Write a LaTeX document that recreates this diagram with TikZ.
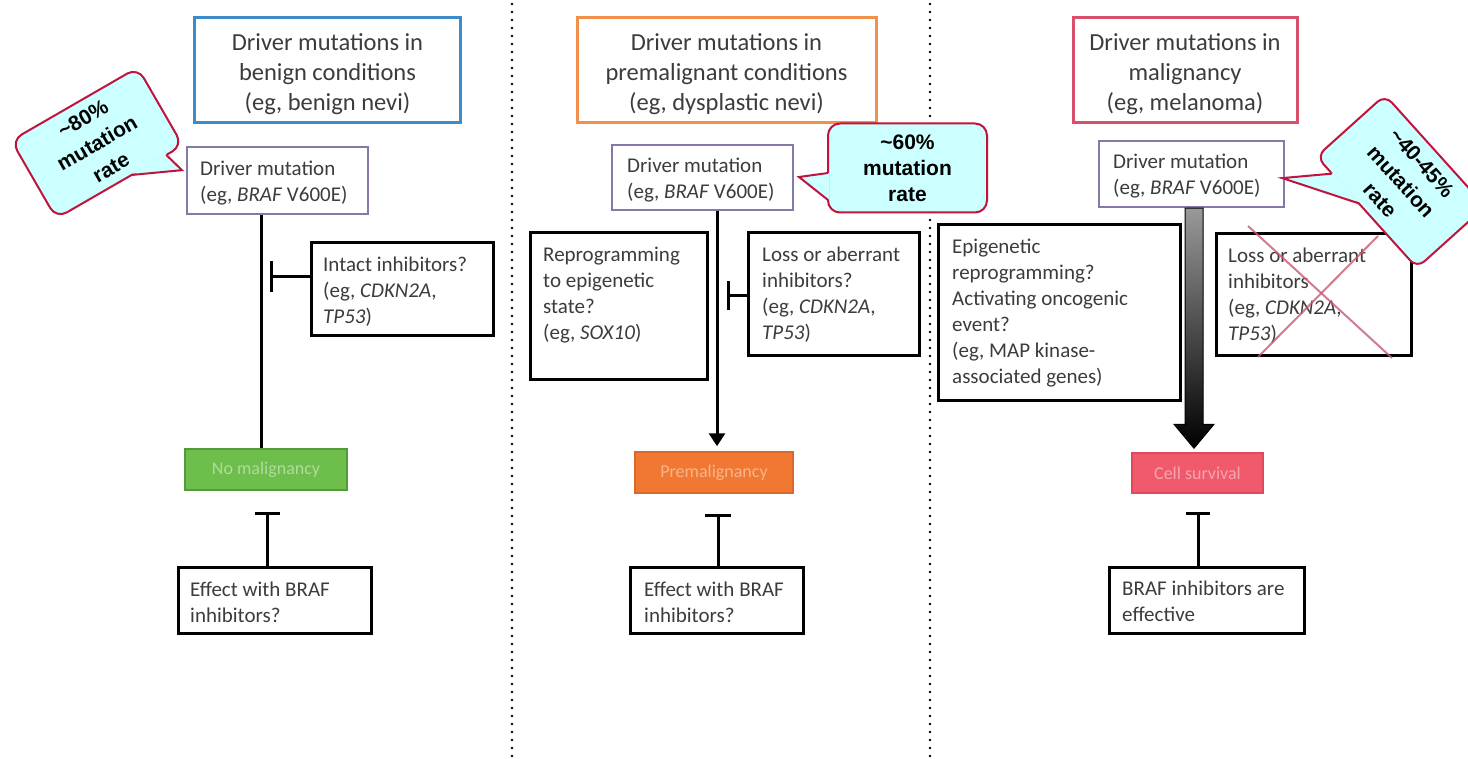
\documentclass[tikz,border=0pt]{standalone}
\usepackage{fontspec}
\setmainfont{Carlito}
\newfontfamily\callfont{Liberation Sans}
\usetikzlibrary{arrows.meta,calc}
\definecolor{txt}{HTML}{3C3C3C}
\definecolor{bluebd}{HTML}{3D8BC9}
\definecolor{orangebd}{HTML}{F0904A}
\definecolor{redbd}{HTML}{D8506C}
\definecolor{drvbd}{HTML}{8878A8}
\definecolor{callfill}{HTML}{CCFFFF}
\definecolor{callbd}{HTML}{C0143C}
\definecolor{greenfill}{HTML}{6EBE4B}
\definecolor{greenbd}{HTML}{559A3A}
\definecolor{orfill}{HTML}{F07832}
\definecolor{orbd}{HTML}{D9692A}
\definecolor{rdfill}{HTML}{F05A6C}
\definecolor{rdbd}{HTML}{E0485C}
\definecolor{xred}{HTML}{C85A72}
\begin{document}
\begin{tikzpicture}[x=1pt,y=-1pt,
 titlebox/.style={draw, line width=3pt, inner sep=0pt},
 titletxt/.style={align=center, inner sep=0pt, text=txt, font=\fontsize{24.5}{30}\selectfont},
 drvbox/.style={draw=drvbd, line width=2.5pt, inner sep=0pt},
 blkbox/.style={draw=black, line width=3pt, inner sep=0pt},
 btxt/.style={anchor=north west, inner sep=0pt, align=left, text=txt, font=\fontsize{21}{26}\selectfont, execute at begin node=\strut},
 statebox/.style={line width=1.5pt, inner sep=0pt, text=white, text opacity=0.45, font=\fontsize{18}{20}\selectfont},
 conn/.style={line width=3pt, draw=black},
 inhib/.style={conn, -{Bar[width=#1]}},
 callbody/.style={fill=callfill, draw=callbd, line width=2pt, rounded corners=12pt, inner sep=0pt, align=center, font=\callfont\bfseries\fontsize{21}{26}\selectfont},
 callrot/.style={callbody, transform shape, font=\callfont\bfseries\fontsize{21}{28}\selectfont},
 ptrfill/.style={fill=callfill, draw=none},
 ptredge/.style={draw=callbd, line width=2pt, line join=miter},
 dotline/.style={line width=2.6pt, dash pattern=on 0pt off 8pt, line cap=round}
]
\fill[white] (0,0) rectangle (1468,759);
\useasboundingbox (0,0) rectangle (1468,759);

% dotted separators
\draw[dotline] (512,4) -- (512,759);
\draw[dotline] (930,4) -- (930,759);

% title boxes
\node[titlebox, draw=bluebd, minimum width=266, minimum height=105] (t1) at (327.5,70.5) {};
\node[titletxt] at ($(t1.center)+(0,4)$) {Driver mutations in\\benign conditions\\(eg, benign nevi)};
\node[titlebox, draw=orangebd, minimum width=299, minimum height=105] (t2) at (726.5,70.5) {};
\node[titletxt] at ($(t2.center)+(0,4)$) {Driver mutations in\\premalignant conditions\\(eg, dysplastic nevi)};
\node[titlebox, draw=redbd, minimum width=224, minimum height=105] (t3) at (1185,70.5) {};
\node[titletxt] at ($(t3.center)+(0,4)$) {Driver mutations in\\malignancy\\(eg, melanoma)};

% driver boxes
\node[drvbox, minimum width=181, minimum height=67] (d1) at (277.5,180.5) {};
\node[btxt] at (200,161) {Driver mutation\\(eg, \textit{BRAF} V600E)};
\node[drvbox, minimum width=181, minimum height=65] (d2) at (702.5,177.5) {};
\node[btxt] at (627,158) {Driver mutation\\(eg, \textit{BRAF} V600E)};
\node[drvbox, minimum width=185, minimum height=66] (d3) at (1191.5,174) {};
\node[btxt] at (1113,154) {Driver mutation\\(eg, \textit{BRAF} V600E)};

% side boxes
\node[blkbox, minimum width=182, minimum height=93] (i1) at (402,289.5) {};
\node[btxt] at (323,257) {Intact inhibitors?\\(eg, \textit{CDKN2A},\\\textit{TP53})};
\node[blkbox, minimum width=177, minimum height=147] (r2l) at (618.5,306.5) {};
\node[btxt] at (543,247) {Reprogramming\\to epigenetic\\state?\\(eg, \textit{SOX10})};
\node[blkbox, minimum width=171, minimum height=123] (r2r) at (833.5,294.5) {};
\node[btxt] at (762,247) {Loss or aberrant\\inhibitors?\\(eg, \textit{CDKN2A},\\\textit{TP53})};
\node[blkbox, minimum width=242, minimum height=176] (e3l) at (1059,313) {};
\node[btxt] at (952,239) {Epigenetic\\reprogramming?\\Activating oncogenic\\event?\\(eg, MAP kinase-\\associated genes)};
\node[blkbox, minimum width=195, minimum height=122] (x3) at (1313.5,295) {};
\node[btxt] at (1228,248) {Loss or aberrant\\inhibitors\\(eg, \textit{CDKN2A},\\\textit{TP53})};
\draw[xred, line width=2pt, opacity=0.8] (1248,226) -- (1392,358);
\draw[xred, line width=2pt, opacity=0.8] (1378,236) -- (1258,357);

% state boxes
\node[statebox, fill=greenfill, draw=greenbd, minimum width=162, minimum height=41] (g1) at (266,469.5) {No malignancy};
\node[statebox, fill=orfill, draw=orbd, minimum width=158, minimum height=41] (o2) at (714,472.5) {Premalignancy};
\node[statebox, fill=rdfill, draw=rdbd, minimum width=131, minimum height=40] (r3) at (1197.5,473) {Cell survival};

% bottom boxes
\node[blkbox, minimum width=193, minimum height=66] (e1) at (274.5,600) {};
\node[btxt] at (190,582) {Effect with BRAF\\inhibitors?};
\node[blkbox, minimum width=173, minimum height=66] (e2) at (716.5,600) {};
\node[btxt] at (644,582) {Effect with BRAF\\inhibitors?};
\node[blkbox, minimum width=195, minimum height=66] (e3) at (1206.5,600) {};
\node[btxt] at (1122,581) {BRAF inhibitors are\\effective};

% column 1 connectors
\draw[conn] (d1.south -| 261,0) -- (g1.north -| 261,0);
\coordinate (b1) at (270,277);
\draw[inhib=31pt] (i1.west |- b1) -- (b1);
\coordinate (b1b) at (267,512);
\draw[inhib=25pt] (e1.north -| b1b) -- (b1b);

% column 2 connectors
\draw[conn, -{Triangle[width=16pt,length=13pt]}, shorten >=5pt] (d2.south -| 717,0) -- (o2.north -| 717,0);
\coordinate (b2) at (727,296);
\draw[inhib=29pt] (r2r.west |- b2) -- (b2);
\coordinate (b2b) at (718,514);
\draw[inhib=26pt] (e2.north -| b2b) -- (b2b);

% column 3 connectors
\coordinate (a3s) at (d3.south -| 1194,0);
\coordinate (a3e) at ($(r3.north -| 1194,0)+(0,-4)$);
\shade[top color=gray!80, bottom color=black, draw=black, line width=1pt]
  ($(a3s)+(-9,0)$) -- ($(a3s)+(9,0)$) -- ($(a3e)+(9,-24)$) -- ($(a3e)+(20,-24)$) -- (a3e)
  -- ($(a3e)+(-20,-24)$) -- ($(a3e)+(-9,-24)$) -- cycle;
\coordinate (b3b) at (1198,512);
\draw[inhib=24pt] (e3.north -| b3b) -- (b3b);

% callout 1
\begin{scope}[shift={(97,143)}, rotate=30]
  \node[callrot, minimum width=146, minimum height=90] (c1) at (0,0) {\textasciitilde80\%\\mutation\\rate};
  \fill[ptrfill] (14,43.6) -- (60,66) -- (54,43.6) -- cycle;
  \draw[ptredge] (14,45) -- (60,66) -- (54,45);
\end{scope}

% callout 2
\node[callbody, minimum width=159, minimum height=89] (c2) at (907.5,168) {\textasciitilde60\%\\mutation\\rate};
\fill[ptrfill] (829.4,173) -- (799,177) -- (829.4,200) -- cycle;
\draw[ptredge] (828,173) -- (799,177) -- (828,200);

% callout 3
\begin{scope}[shift={(1401,181.5)}, rotate=-48]
  \node[callrot, rounded corners=10pt, minimum width=150, minimum height=92] (c3) at (0,0) {\textasciitilde40-45\%\\mutation\\rate};
  \fill[ptrfill] (-52,44.6) -- (-82,86) -- (-12,44.6) -- cycle;
  \draw[ptredge] (-52,46) -- (-82,86) -- (-12,46);
\end{scope}
\end{tikzpicture}
\end{document}
